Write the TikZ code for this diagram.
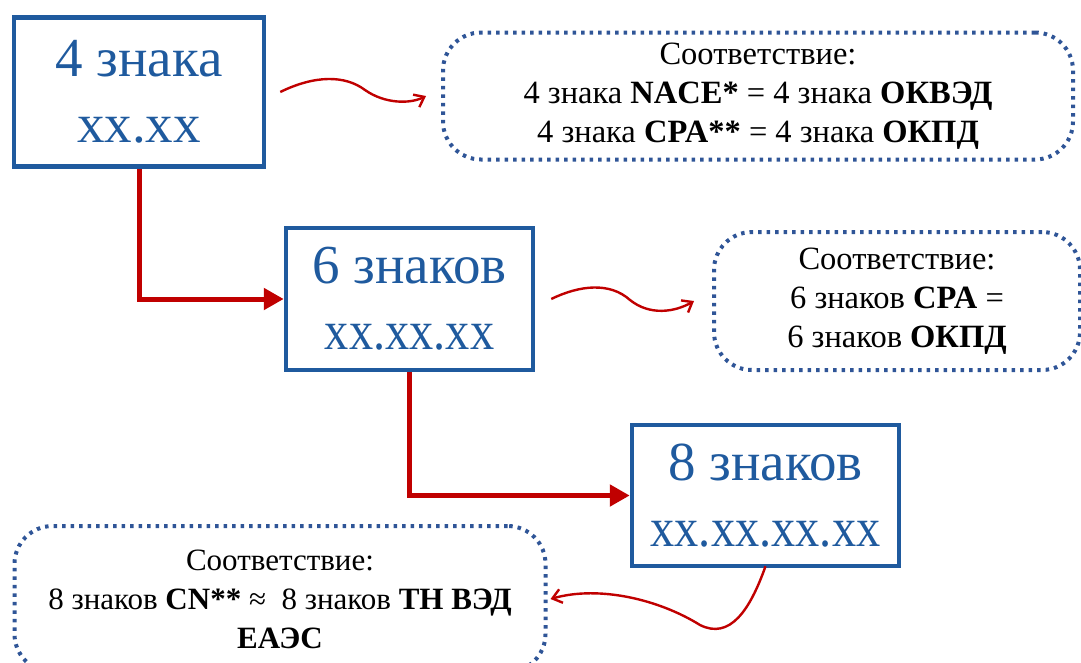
\documentclass[tikz,border=0pt]{standalone}
\usepackage{fontspec}
\setmainfont{Liberation Serif}
\usepackage{tikz}
\usetikzlibrary{arrows.meta,shapes.geometric,positioning}
\definecolor{boxblue}{HTML}{1F5A9E}
\definecolor{dotblue}{HTML}{2F5597}
\definecolor{arrred}{HTML}{C00000}

\tikzset{
  codebox/.style={draw=boxblue, line width=4.5pt, text=boxblue, align=center,
    font=\fontsize{55}{66}\selectfont},
  matchbox/.style={draw=dotblue, line width=4pt, rounded corners=38pt,
    dash pattern=on 3.5pt off 5pt, align=center,
    font=\fontsize{32.5}{39}\selectfont},
  elbow/.style={draw=arrred, line width=5pt, -{Triangle[length=20pt,width=21pt]}},
  wavy/.style={draw=arrred, line width=2.4pt, -{Straight Barb[length=9pt,width=14pt]}}
}

\begin{document}
\begin{tikzpicture}[x=1pt,y=-1pt]
                \useasboundingbox (0,0) rectangle (1081,662);
                % code boxes
                \node[codebox, minimum width=250, minimum height=149] (four) at (139,92) {4 знака\\xx.xx};
                \node[codebox, minimum width=247, minimum height=142] (six) at (409.5,299)
                  {6 знаков\\\scalebox{0.88}[1]{xx.xx.xx}};
                \node[codebox, minimum width=267, minimum height=141] (eight) at (765.5,495.5)
                  {8 знаков\\\scalebox{0.88}[1]{xx.xx.xx.xx}};
                % correspondence boxes
                \node[matchbox, minimum width=630, minimum height=127] (mfour) at (758,96)
                  {Соответствие:\\4 знака \textbf{NACE*} = 4 знака \textbf{ОКВЭД}\\4 знака \textbf{CPA**} = 4 знака \textbf{ОКПД}};
                \node[matchbox, minimum width=366, minimum height=138] (msix) at (897,301)
                  {Соответствие:\\6 знаков \textbf{CPA} =\\6 знаков \textbf{ОКПД}};
                \node[matchbox, minimum width=531, minimum height=146, font=\fontsize{31}{39}\selectfont] (meight) at (280,599)
                  {Соответствие:\\8 знаков \textbf{CN**} ≈ \ 8 знаков \textbf{ТН ВЭД}\\\textbf{ЕАЭС}};
                % steps
                \draw[elbow] (four.south) |- (six.west);
                \draw[elbow] (six.south) |- (eight.west);
                % links
                \draw[wavy] ([xshift=14]four.east) .. controls (315,75) and (345,75) .. (365,90)
                  .. controls (385,104) and (410,104) .. ([xshift=-15]mfour.west);
                \draw[wavy] ([xshift=16]six.east) .. controls (580,285) and (610,282) .. (630,300)
                  .. controls (650,316) and (675,312) .. ([xshift=-18]msix.west);
                \draw[wavy] ([yshift=2]eight.south) .. controls (750,610) and (730,640) .. (700,625)
                  .. controls (660,600) and (600,585) .. ([xshift=3]meight.east);
\end{tikzpicture}
\end{document}
